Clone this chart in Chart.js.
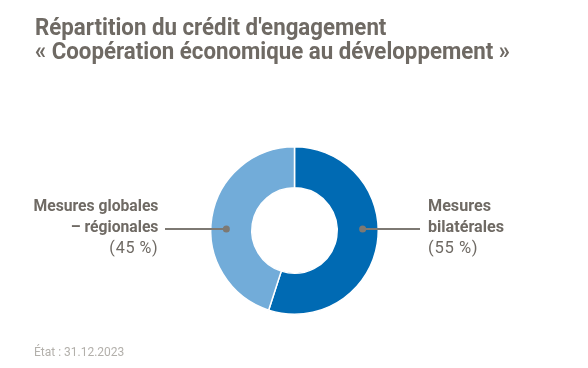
<!DOCTYPE html>
<html><head><meta charset="utf-8">
<script src="https://cdn.jsdelivr.net/npm/chart.js@4"></script>
<style>
html,body{margin:0;padding:0;background:#fff;}
body{width:588px;height:368px;position:relative;overflow:hidden;font-family:Roboto,"DejaVu Sans",sans-serif;color:#6f6a64;}
#title{position:absolute;left:35px;top:16px;font-weight:bold;font-size:23px;line-height:23.5px;white-space:nowrap;transform-origin:0 0;}
#title span{display:inline-block;}
#wrap{position:absolute;left:0;top:0;width:588px;height:368px;}
.lab{position:absolute;font-size:16.5px;line-height:20.5px;font-weight:bold;white-space:nowrap;}
.lab span{display:inline-block;}
.lab .pct{font-weight:normal;font-size:17px;letter-spacing:0.8px;}
#labL{right:430px;top:196px;text-align:right;transform-origin:100% 0;}
#labR{left:428px;top:196px;text-align:left;transform-origin:0 0;}
#foot{position:absolute;left:34px;top:345px;font-size:12px;color:#b3b0ab;}
</style></head><body>
<div id="wrap"><canvas id="c" width="588" height="368"></canvas></div>
<div id="title"><span id="t1">Répartition du crédit d'engagement</span><br><span id="t2">« Coopération économique au développement »</span></div>
<div class="lab" id="labL"></div>
<div class="lab" id="labR"></div>
<div id="foot">État : 31.12.2023</div>
<script>
const categories = ["Mesures bilatérales", "Mesures globales – régionales"];
const labelLines = [["Mesures", "bilatérales"], ["Mesures globales", "– régionales"]];
const values = [55, 45];
const colors = ["#006ab3", "#72acd9"];

function pctText(v){ return "(" + v + "\u2009%)"; }
function labelHTML(lines, v){
  return lines.map(l => '<span>' + l + '</span>').join('<br>') + '<br><span class="pct">' + pctText(v) + '</span>';
}
document.getElementById('labR').innerHTML = labelHTML(labelLines[0], values[0]);
document.getElementById('labL').innerHTML = labelHTML(labelLines[1], values[1]);

function fitX(el, ref, target){
  const w = ref.getBoundingClientRect().width;
  el.style.transform = 'scaleX(' + (target / w) + ')';
}
fitX(document.getElementById('title'), document.getElementById('t2'), 475);
fitX(document.getElementById('labL'), document.querySelector('#labL span'), 125);
fitX(document.getElementById('labR'), document.querySelectorAll('#labR span')[1], 76);

const connector = {
  id: 'connector',
  afterDatasetsDraw(chart){
    const meta = chart.getDatasetMeta(0);
    const ctx = chart.ctx;
    const a = meta.data[0];
    const cx = a.x, cy = a.y - 1.5;
    const rin = a.innerRadius, rout = a.outerRadius;
    const rd = rin + (rout - rin) * 0.62;
    ctx.save();
    ctx.strokeStyle = '#7d7973';
    ctx.fillStyle = '#7d7973';
    ctx.lineWidth = 2;
    ctx.beginPath(); ctx.moveTo(cx + rd, cy); ctx.lineTo(420, cy); ctx.stroke();
    ctx.beginPath(); ctx.arc(cx + rd, cy, 3.5, 0, Math.PI*2); ctx.fill();
    ctx.beginPath(); ctx.moveTo(cx - rd, cy); ctx.lineTo(165, cy); ctx.stroke();
    ctx.beginPath(); ctx.arc(cx - rd, cy, 3.5, 0, Math.PI*2); ctx.fill();
    ctx.restore();
  }
};

new Chart(document.getElementById('c'), {
  type: 'doughnut',
  data: { labels: categories, datasets: [{ data: values, backgroundColor: colors, borderColor: '#ffffff', borderWidth: 1.5, hoverOffset: 0 }] },
  options: {
    responsive: false, animation: false, cutout: '51%',
    layout: { padding: { top: 146, bottom: 53, left: 1, right: 0 } },
    plugins: { legend: { display: false }, tooltip: { enabled: false } },
    events: []
  },
  plugins: [connector]
});
</script>
</body></html>
